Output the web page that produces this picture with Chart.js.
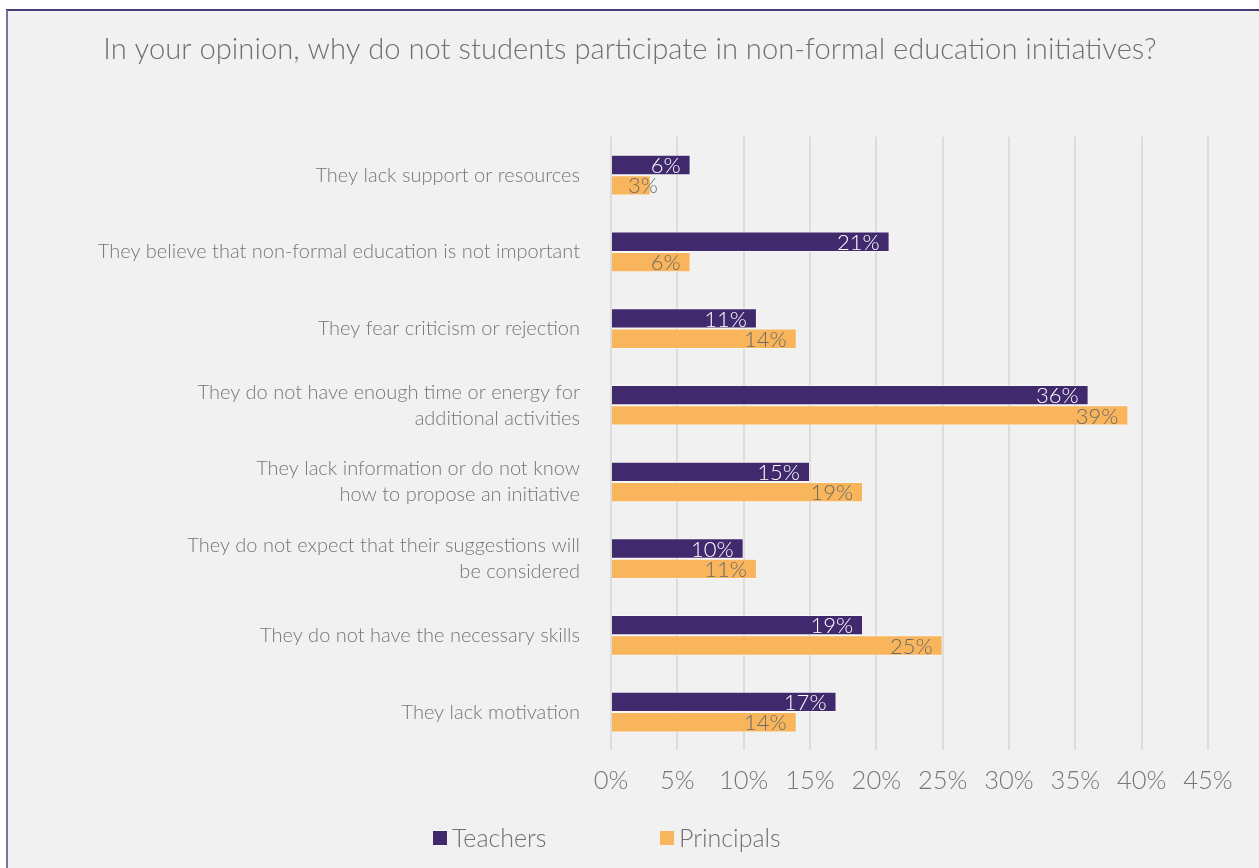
<!DOCTYPE html>
<html>
<head>
<meta charset="utf-8">
<script src="https://cdn.jsdelivr.net/npm/chart.js@4.4.1/dist/chart.umd.min.js"></script>
<style>
  html, body { margin: 0; padding: 0; background: #ffffff; width: 1259px; height: 868px; overflow: hidden; }
  #frame {
    position: absolute; left: 6px; top: 9px; width: 1253px; height: 859px;
    border-top: 2px solid #4b3b78; border-left: 2px solid #7d71a2;
    background: #f0f1f0; box-sizing: border-box;
  }
  #wrap { position: absolute; left: 0; top: 0; width: 1251px; height: 857px; }
</style>
</head>
<body>
<div id="frame"><div id="wrap"><canvas id="chart"></canvas></div></div>
<script>
const titleText = 'In your opinion, why do not students participate in non-formal education initiatives?';
const categories = [
  ['They lack support or resources'],
  ['They believe that non-formal education is not important'],
  ['They fear criticism or rejection'],
  ['They do not have enough time or energy for', 'additional activities'],
  ['They lack information or do not know', 'how to propose an initiative'],
  ['They do not expect that their suggestions will', 'be considered'],
  ['They do not have the necessary skills'],
  ['They lack motivation']
];
const seriesNames = ['Teachers', 'Principals'];
const teachers = [6, 21, 11, 36, 15, 10, 19, 17];
const principals = [3, 6, 14, 39, 19, 11, 25, 14];
const xTicks = [0, 5, 10, 15, 20, 25, 30, 35, 40, 45];

const FONT = 'Lato, "Open Sans", "DejaVu Sans", sans-serif';
const PURPLE = '#41296e';
const ORANGE = '#f9b55c';

// Value labels drawn at the inner end of each bar
const barLabels = {
  id: 'barLabels',
  afterDatasetsDraw(chart) {
    const ctx = chart.ctx;
    ctx.save();
    ctx.font = '300 22px ' + FONT;
    ctx.textBaseline = 'middle';
    ctx.textAlign = 'left';
    chart.data.datasets.forEach((ds, di) => {
      const meta = chart.getDatasetMeta(di);
      meta.data.forEach((bar, i) => {
        const txt = ds.data[i] + '%';
        const tw = ctx.measureText(txt).width;
        const right = Math.max(bar.x - 10, bar.base + 16 + tw);
        ctx.fillStyle = di === 0 ? '#ffffff' : '#6b6b6b';
        ctx.fillText(txt, right - tw, bar.y + 1);
      });
    });
    ctx.restore();
  }
};

// Legend with square swatches under the plot
const bottomLegend = {
  id: 'bottomLegend',
  afterDraw(chart) {
    const ctx = chart.ctx;
    ctx.save();
    ctx.font = '300 25px ' + FONT;
    ctx.textBaseline = 'middle';
    const y = 827;
    const starts = [425, 652];
    chart.data.datasets.forEach((ds, di) => {
      const x = starts[di];
      ctx.fillStyle = ds.backgroundColor;
      ctx.fillRect(x, y - 7, 14, 14);
      ctx.fillStyle = '#707070';
      ctx.fillText(ds.label, x + 19, y + 1);
    });
    ctx.restore();
  }
};

new Chart(document.getElementById('chart'), {
  type: 'bar',
  data: {
    labels: categories,
    datasets: [
      { label: seriesNames[0], data: teachers, backgroundColor: PURPLE, borderColor: 'rgba(255,255,255,0.45)', borderWidth: 1, borderSkipped: 'start' },
      { label: seriesNames[1], data: principals, backgroundColor: ORANGE, borderColor: 'rgba(255,255,255,0.45)', borderWidth: 1, borderSkipped: 'start' }
    ]
  },
  options: {
    indexAxis: 'y',
    responsive: true,
    maintainAspectRatio: false,
    animation: false,
    events: [],
    categoryPercentage: 0.53,
    barPercentage: 1.0,
    layout: { padding: { top: 0, right: 7, bottom: 57, left: 0 } },
    plugins: {
      legend: { display: false },
      tooltip: { enabled: false },
      title: {
        display: true,
        text: titleText,
        color: '#707070',
        font: { family: FONT, size: 29.2, weight: 300 },
        padding: { top: 21.5, bottom: 69.3 }
      }
    },
    scales: {
      x: {
        min: 0, max: 45,
        afterBuildTicks(scale) { scale.ticks = xTicks.map(v => ({ value: v })); },
        afterFit(scale) { scale.paddingRight = 51; },
        grid: { color: '#dcdcdc', lineWidth: 2, drawTicks: false },
        border: { display: false },
        ticks: {
          color: '#767676',
          font: { family: FONT, size: 25.5, weight: 300 },
          padding: 15,
          maxRotation: 0,
          callback: v => v + '%'
        }
      },
      y: {
        afterFit(scale) { scale.width = 603; },
        grid: { display: false, drawTicks: false },
        border: { display: false },
        ticks: {
          color: '#767676',
          font: { family: FONT, size: 20, weight: 300, lineHeight: 1.3 },
          padding: 31
        }
      }
    }
  },
  plugins: [barLabels, bottomLegend]
});
</script>
</body>
</html>
